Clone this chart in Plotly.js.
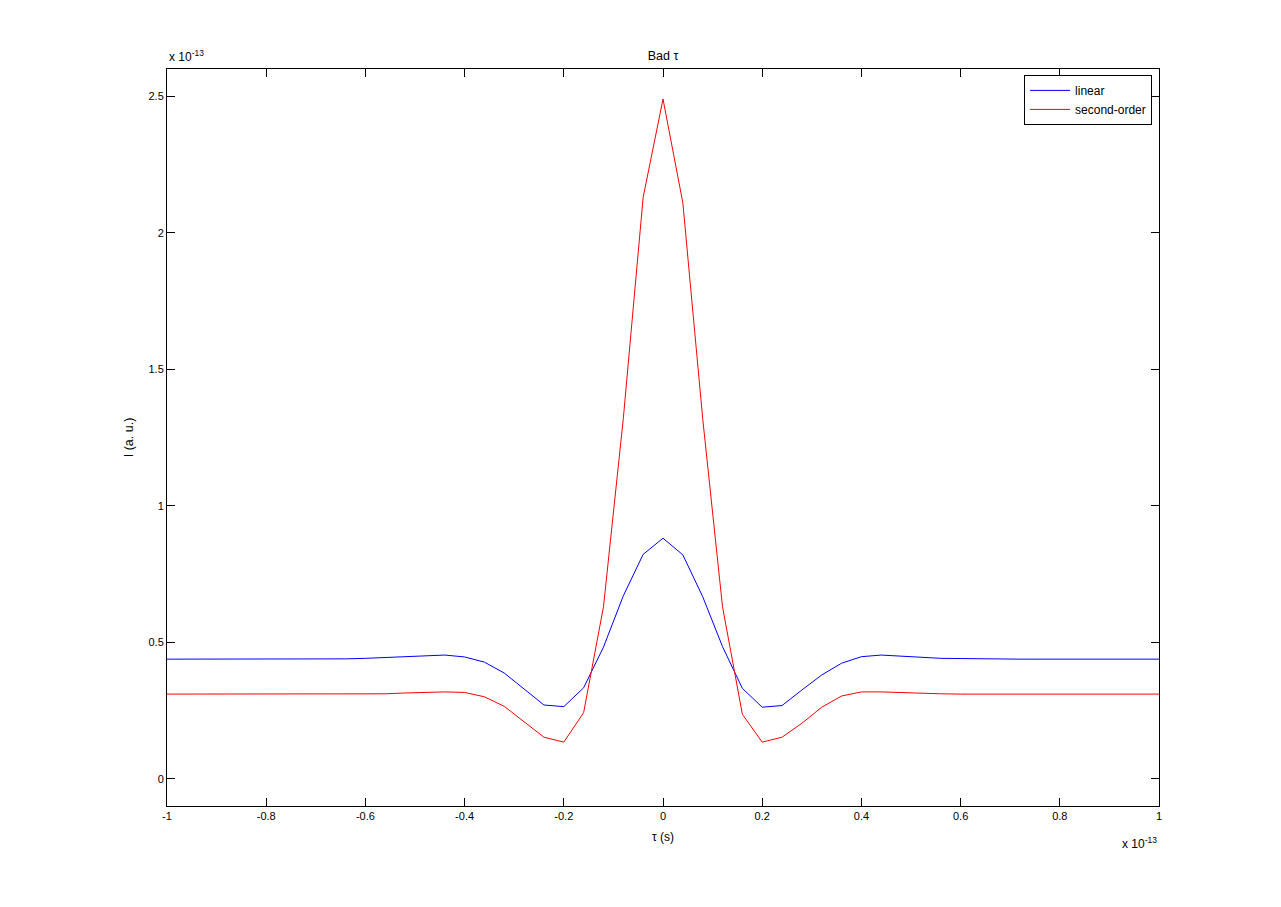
<!DOCTYPE html>
<html>
<head>
<meta charset="utf-8">
<script src="https://cdn.plot.ly/plotly-3.0.1.min.js"></script>
<style>
  html, body { margin: 0; padding: 0; background: #fff; }
  #graph1 { width: 1281px; height: 907px; }
</style>
</head>
<body>
<div id="graph1"></div>
<script>
// delay tau, in units of 1e-13 s
const tau = [
  -1.00, -0.96, -0.92, -0.88, -0.84, -0.80, -0.76, -0.72, -0.68, -0.64,
  -0.60, -0.56, -0.52, -0.48, -0.44, -0.40, -0.36, -0.32, -0.28, -0.24,
  -0.20, -0.16, -0.12, -0.08, -0.04, 0.00, 0.04, 0.08, 0.12, 0.16,
  0.20, 0.24, 0.28, 0.32, 0.36, 0.40, 0.44, 0.48, 0.52, 0.56,
  0.60, 0.64, 0.68, 0.72, 0.76, 0.80, 0.84, 0.88, 0.92, 0.96, 1.00
];

// intensity, in units of 1e-13
const linear = [
  0.438, 0.438, 0.438, 0.438, 0.438, 0.438, 0.438, 0.438, 0.438, 0.439,
  0.441, 0.444, 0.446, 0.451, 0.453, 0.446, 0.427, 0.387, 0.329, 0.270,
  0.264, 0.333, 0.482, 0.670, 0.822, 0.881, 0.820, 0.667, 0.484, 0.331,
  0.262, 0.268, 0.325, 0.380, 0.423, 0.447, 0.453, 0.450, 0.445, 0.441,
  0.440, 0.438, 0.438, 0.438, 0.438, 0.438, 0.438, 0.438, 0.438, 0.438, 0.438
];

const secondOrder = [
  0.310, 0.310, 0.310, 0.310, 0.310, 0.310, 0.310, 0.310, 0.310, 0.310,
  0.310, 0.311, 0.314, 0.317, 0.318, 0.316, 0.300, 0.265, 0.208, 0.152,
  0.134, 0.242, 0.630, 1.320, 2.130, 2.490, 2.110, 1.320, 0.630, 0.236,
  0.134, 0.152, 0.203, 0.262, 0.303, 0.318, 0.318, 0.315, 0.314, 0.311,
  0.310, 0.310, 0.310, 0.310, 0.310, 0.310, 0.310, 0.310, 0.310, 0.310, 0.310
];

// tick labels (MATLAB style, plain hyphen minus)
const xTickVals = [-1, -0.8, -0.6, -0.4, -0.2, 0, 0.2, 0.4, 0.6, 0.8, 1];
const xTickText = ['-1', '-0.8', '-0.6', '-0.4', '-0.2', '0', '0.2', '0.4', '0.6', '0.8', '1'];
const yTickVals = [0, 0.5, 1, 1.5, 2, 2.5];
const yTickText = ['0', '0.5', '1', '1.5', '2', '2.5'];

const fontFam = 'Liberation Sans, Arial, Helvetica, sans-serif';

const data = [
  {
    x: tau,
    y: linear,
    mode: 'lines',
    name: 'linear',
    line: { color: '#0000ff', width: 1 }
  },
  {
    x: tau,
    y: secondOrder,
    mode: 'lines',
    name: 'second-order',
    line: { color: '#ff0000', width: 1 }
  }
];

const axisCommon = {
  showgrid: false,
  zeroline: false,
  showline: true,
  linecolor: 'black',
  linewidth: 1,
  mirror: 'allticks',
  ticks: 'inside',
  ticklen: 8,
  tickwidth: 1,
  tickcolor: 'black',
  tickfont: { family: fontFam, size: 11, color: 'black' }
};

const layout = {
  width: 1281,
  height: 907,
  paper_bgcolor: '#fff',
  plot_bgcolor: '#fff',
  margin: { l: 167, r: 122, t: 69, b: 101 },
  font: { family: fontFam, size: 11, color: 'black' },
  title: {
    text: 'Bad τ',
    font: { family: fontFam, size: 12.5, color: 'black' },
    xref: 'paper', x: 0.5, xanchor: 'center',
    yref: 'paper', y: 1, yanchor: 'bottom',
    pad: { b: 9 }
  },
  showlegend: true,
  legend: {
    x: 0.993, xanchor: 'right',
    y: 0.992, yanchor: 'top',
    bgcolor: '#fff',
    bordercolor: 'black',
    borderwidth: 1,
    itemwidth: 40,
    font: { family: fontFam, size: 12, color: 'black' },
    tracegroupgap: 0
  },
  xaxis: Object.assign({}, axisCommon, {
    range: [-1, 1],
    tickmode: 'array',
    tickvals: xTickVals,
    ticktext: xTickText,
    title: { text: 'τ (s)', font: { family: fontFam, size: 12, color: 'black' }, standoff: 11 }
  }),
  yaxis: Object.assign({}, axisCommon, {
    range: [-0.1, 2.6],
    tickmode: 'array',
    tickvals: yTickVals,
    ticktext: yTickText,
    title: { text: 'I (a. u.)', font: { family: fontFam, size: 12.5, color: 'black' }, standoff: 12 }
  }),
  annotations: [
    {
      text: 'x 10<sup>-13</sup>',
      xref: 'paper', yref: 'paper',
      x: 0, y: 1, xanchor: 'left', yanchor: 'bottom', yshift: 3,
      showarrow: false,
      font: { family: fontFam, size: 12, color: 'black' }
    },
    {
      text: 'x 10<sup>-13</sup>',
      xref: 'paper', yref: 'paper',
      x: 1, y: 0, xanchor: 'right', yanchor: 'top', yshift: -27,
      showarrow: false,
      font: { family: fontFam, size: 12, color: 'black' }
    }
  ]
};

Plotly.newPlot('graph1', data, layout, { displayModeBar: false, staticPlot: true });
</script>
</body>
</html>
